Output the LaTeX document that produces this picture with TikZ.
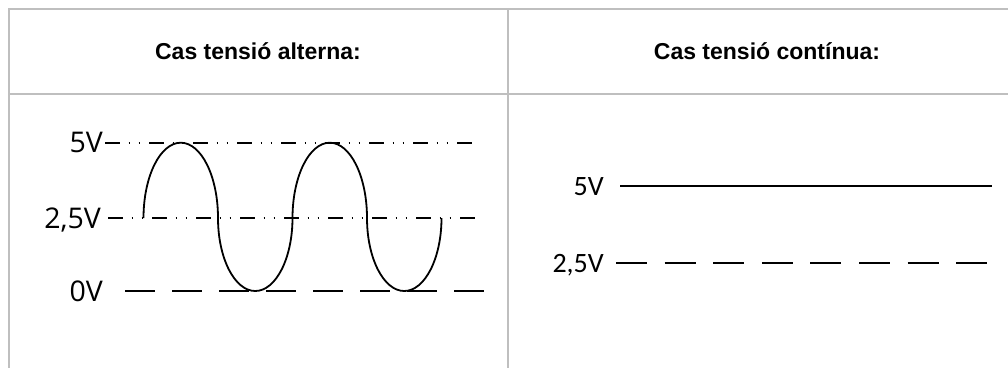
\documentclass[tikz,border=0pt]{standalone}
\usepackage{fontspec}
\setmainfont{Liberation Sans}
\newfontfamily\opensans{Open Sans}
\newfontfamily\carlito{Carlito}
\definecolor{tblgray}{RGB}{191,191,191}

\begin{document}
\begin{tikzpicture}[x=1pt,y=1pt,
  tblline/.style={tblgray, line width=2pt},
  headtxt/.style={font=\fontsize{23}{27}\selectfont\bfseries, anchor=base, inner sep=0pt},
  lvlA/.style={font=\opensans\fontsize{28.5}{30}\selectfont, inner sep=0pt, text height=20.2pt, text depth=0pt, anchor=east},
  lvlB/.style={font=\carlito\fontsize{28}{30}\selectfont, inner sep=0pt, text height=18pt, text depth=0pt, anchor=east},
  dashdotdot/.style={line width=1.8pt, dash pattern=on 15pt off 8.5pt on 1.5pt off 8.5pt on 1.5pt off 9pt},
  longdash/.style={line width=1.8pt, dash pattern=on 30pt off 17pt},
  bdash/.style={line width=1.8pt, dash pattern=on 31pt off 17.6pt},
  wave/.style={line width=1.8pt}]
  \useasboundingbox (0,0) rectangle (1008,368);

  % Table frame
  \draw[tblline] (1008,359.3) -- (8.5,359.3) -- (8.5,0);
  \draw[tblline] (8.5,274.3) -- (1008,274.3);
  \draw[tblline] (507.5,359.3) -- (507.5,0);

  % Headers
  \node[headtxt] (hA) at (258,309) {Cas tensió alterna:};
  \node[headtxt] (hB) at (767,309) {Cas tensió contínua:};

  % Alternating case: levels
  \node[lvlA] (a5) at (103,225.3) {5V};
  \node[lvlA] (a25) at (101,150) {2,5V};
  \node[lvlA] (a0) at (103,77) {0V};
  \coordinate (a5end) at (472,225.3);
  \coordinate (a25end) at (475,150);
  \coordinate (a0end) at (485,77);
  \draw[dashdotdot] ([xshift=2]a5.east) -- (a5end);
  \draw[dashdotdot] ([xshift=7]a25.east) -- (a25end);
  \draw[longdash] ([xshift=22]a0.east) -- (a0end);

  % Alternating case: wave
  \draw[wave] (143.5,150)
    arc[start angle=180, end angle=0, x radius=37.25pt, y radius=75.3pt]
    arc[start angle=180, end angle=360, x radius=37.25pt, y radius=73pt]
    arc[start angle=180, end angle=0, x radius=37.25pt, y radius=75.3pt]
    arc[start angle=180, end angle=360, x radius=37.25pt, y radius=73pt];

  % Direct case: levels
  \node[lvlB] (b5) at (604,182) {5V};
  \node[lvlB] (b25) at (604,105) {2,5V};
  \coordinate (b5end) at (992,182);
  \coordinate (b25end) at (989,105);
  \draw[wave] ([xshift=16]b5.east) -- (b5end);
  \draw[bdash] ([xshift=12]b25.east) -- (b25end);
\end{tikzpicture}
\end{document}
